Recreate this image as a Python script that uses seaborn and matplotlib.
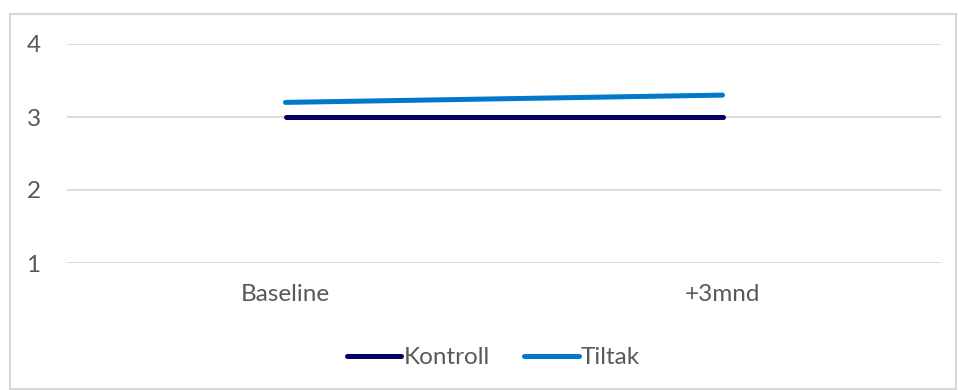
import matplotlib
matplotlib.use("Agg")
import matplotlib.pyplot as plt
from matplotlib.patches import Rectangle
import pandas as pd
import seaborn as sns

# Data
periods = ["Baseline", "+3mnd"]
kontroll = [3.0, 3.0]
tiltak = [3.2, 3.3]
series_names = ["Kontroll", "Tiltak"]
y_ticks = [1, 2, 3, 4]

df = pd.DataFrame({
    "Periode": periods * 2,
    "Verdi": kontroll + tiltak,
    "Gruppe": [series_names[0]] * len(periods) + [series_names[1]] * len(periods),
})

sns.set_theme(style="white")
plt.rcParams["font.family"] = ["Lato", "DejaVu Sans"]

text_color = "#595959"
grid_color = "#d9d9d9"
palette = {"Kontroll": "#000066", "Tiltak": "#0078cc"}
fs = 17.5

fig = plt.figure(figsize=(9.58, 3.90), dpi=100)
ax = fig.add_axes([67 / 958, 1 - 263 / 390, (941 - 67) / 958, (263 - 44) / 390])

sns.lineplot(data=df, x="Periode", y="Verdi", hue="Gruppe", palette=palette,
             linewidth=3.6, ax=ax, sort=False, legend=False,
             solid_capstyle="round")

ax.set_xlim(-0.5, len(periods) - 0.5)
ax.set_ylim(1, 4)
ax.set_yticks(y_ticks)
ax.set_yticklabels([str(t) for t in y_ticks])
ax.set_xlabel("")
ax.set_ylabel("")
for sp in ax.spines.values():
    sp.set_visible(False)
for t in y_ticks:
    ax.axhline(t, color=grid_color, linewidth=1.3, zorder=0)
ax.tick_params(axis="both", length=0, labelsize=fs, colors=text_color)
ax.tick_params(axis="y", pad=19)
ax.tick_params(axis="x", pad=15)

handles = [plt.Line2D([], [], color=palette[n], linewidth=3.6, solid_capstyle="round")
           for n in series_names]
leg = fig.legend(handles, series_names, loc="center", ncol=2,
                 bbox_to_anchor=(0.515, 0.083), frameon=False,
                 fontsize=fs, handlelength=2.25, handletextpad=0.1,
                 columnspacing=1.4)
for txt in leg.get_texts():
    txt.set_color(text_color)

# Outer chart border
fig.patches.append(Rectangle((10 / 958, 1 / 390), 946 / 958, 375 / 390,
                             transform=fig.transFigure, fill=False,
                             edgecolor=grid_color, linewidth=1.5))

fig.savefig("out.png", dpi=100)
